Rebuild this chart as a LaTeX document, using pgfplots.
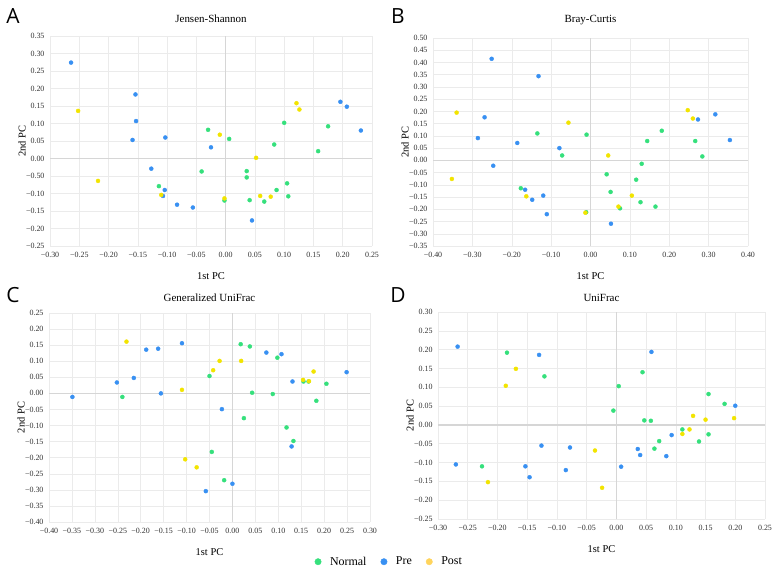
\documentclass[border=0pt]{standalone}
\usepackage{fontspec}
\setmainfont{Liberation Serif}
\newfontfamily\letterfont{Open Sans}
\usepackage{pgfplots}
\pgfplotsset{compat=1.18}

\definecolor{cnorm}{HTML}{35E07C}
\definecolor{cpre}{HTML}{3890F2}
\definecolor{cpost}{HTML}{F2E400}
\definecolor{lpost}{HTML}{FFD45C}
\definecolor{gridc}{HTML}{EBEBEB}
\definecolor{zeroc}{HTML}{D6D6D6}

\pgfplotsset{
  pcoa/.style={
    scale only axis,
    enlargelimits=false,
    axis line style={draw=none},
    major tick length=0pt,
    grid=major,
    grid style={gridc, line width=0.5bp},
    extra x ticks={0}, extra y ticks={0},
    extra x tick labels={}, extra y tick labels={},
    extra tick style={grid style={zeroc, line width=1.4bp}},
    tick label style={font=\fontsize{8}{9}\selectfont, text=black!80},
    xticklabel style={yshift=-3bp},
    yticklabel style={xshift=-2bp},
    title style={font=\fontsize{11}{12}\selectfont, at={(axis description cs:0.5,1)}, anchor=center},
    xlabel style={font=\fontsize{10.5}{12}\selectfont, at={(axis description cs:0.5,0)}, anchor=center, yshift=-30bp},
    ylabel style={font=\fontsize{10.5}{12}\selectfont, at={(axis description cs:0,0.5)}, anchor=center, yshift=28bp},
    xlabel={1st PC}, ylabel={2nd PC},
    clip=false,
  },
  dots/.style={only marks, mark=*, mark size=2bp, color=#1, forget plot},
}

\begin{document}
\begin{tikzpicture}
\path[use as bounding box] (0,0) rectangle (775bp,-573bp);

\node[font=\letterfont\fontsize{21}{22}\selectfont] at (13bp,-16bp) {A};
\node[font=\letterfont\fontsize{21}{22}\selectfont] at (398bp,-16bp) {B};
\node[font=\letterfont\fontsize{21}{22}\selectfont] at (13bp,-295bp) {C};
\node[font=\letterfont\fontsize{21}{22}\selectfont] at (398bp,-295bp) {D};

% ---- A: Jensen-Shannon ----
\begin{axis}[pcoa,
  at={(50bp,-246bp)}, anchor=south west, width=322bp, height=210bp,
  xmin=-0.30, xmax=0.25, ymin=-0.25, ymax=0.35,
  xtick={-0.30,-0.25,...,0.26}, ytick={-0.25,-0.20,...,0.36},
  xticklabels={−0.30,−0.25,−0.20,−0.15,−0.10,−0.05,0.00,0.05,0.10,0.15,0.20,0.25},
  yticklabels={−0.25,−0.20,−0.15,−0.10,−0.50,0.00,0.05,0.10,0.15,0.20,0.25,0.30,0.35},
  title={Jensen-Shannon}, title style={yshift=11bp},
]
\addplot[dots=cnorm] coordinates {
(-0.030,0.082) (0.006,0.056) (-0.041,-0.037) (-0.114,-0.079) (-0.002,-0.120)
(0.036,-0.036) (0.036,-0.054) (0.041,-0.119) (0.066,-0.123) (0.087,-0.090)
(0.105,-0.071) (0.107,-0.108) (0.083,0.040) (0.100,0.102) (0.158,0.021) (0.175,0.092)};
\addplot[dots=cpre] coordinates {
(-0.264,0.274) (-0.154,0.183) (-0.153,0.107) (-0.159,0.053) (-0.103,0.060)
(-0.025,0.032) (-0.127,-0.029) (-0.104,-0.090) (-0.107,-0.107) (-0.083,-0.132)
(-0.056,-0.140) (0.045,-0.177) (0.196,0.162) (0.207,0.148) (0.231,0.080)};
\addplot[dots=cpost] coordinates {
(-0.252,0.136) (-0.218,-0.064) (-0.110,-0.104) (-0.010,0.068) (-0.002,-0.114)
(0.052,0.002) (0.059,-0.107) (0.077,-0.109) (0.121,0.158) (0.126,0.140)};
\end{axis}

% ---- B: Bray-Curtis ----
\begin{axis}[pcoa,
  at={(433bp,-246bp)}, anchor=south west, width=315bp, height=208bp,
  xmin=-0.40, xmax=0.40, ymin=-0.35, ymax=0.50,
  xtick={-0.40,-0.30,...,0.41}, ytick={-0.35,-0.30,...,0.51},
  xticklabels={−0.40,−0.30,−0.20,−0.10,0.00,0.10,0.20,0.30,0.40},
  yticklabels={−0.35,−0.30,−0.25,−0.20,−0.15,−0.10,−0.05,0.00,0.05,0.10,0.15,0.20,0.25,0.30,0.35,0.40,0.45,0.50},
  title={Bray-Curtis}, title style={yshift=12bp},
]
\addplot[dots=cnorm] coordinates {
(-0.135,0.110) (-0.072,0.020) (-0.010,0.105) (-0.177,-0.114) (0.041,-0.057)
(0.051,-0.129) (-0.011,-0.212) (0.075,-0.196) (0.130,-0.014) (0.116,-0.079)
(0.127,-0.171) (0.165,-0.189) (0.144,0.079) (0.181,0.121) (0.266,0.079) (0.284,0.016)};
\addplot[dots=cpre] coordinates {
(-0.251,0.415) (-0.132,0.344) (-0.269,0.176) (-0.286,0.091) (-0.186,0.071)
(-0.079,0.050) (-0.247,-0.022) (-0.166,-0.120) (-0.148,-0.161) (-0.120,-0.144)
(-0.111,-0.220) (0.052,-0.259) (0.273,0.167) (0.317,0.188) (0.354,0.083)};
\addplot[dots=cpost] coordinates {
(-0.340,0.195) (-0.352,-0.076) (-0.163,-0.147) (-0.056,0.154) (-0.013,-0.214)
(0.045,0.020) (0.071,-0.189) (0.105,-0.144) (0.247,0.205) (0.260,0.171)};
\end{axis}

% ---- C: Generalized UniFrac ----
\begin{axis}[pcoa,
  at={(49bp,-522bp)}, anchor=south west, width=321bp, height=209bp,
  xmin=-0.40, xmax=0.30, ymin=-0.40, ymax=0.25,
  xtick={-0.40,-0.35,...,0.31}, ytick={-0.40,-0.35,...,0.26},
  xticklabels={−0.40,−0.35,−0.30,−0.25,−0.20,−0.15,−0.10,−0.05,0.00,0.05,0.10,0.15,0.20,0.25,0.30},
  yticklabels={−0.40,−0.35,−0.30,−0.25,−0.20,−0.15,−0.10,−0.05,0.00,0.05,0.10,0.15,0.20,0.25},
  title={Generalized UniFrac}, title style={yshift=9bp},
  legend columns=3,
  legend style={draw=none, fill=none, at={(axis description cs:1.06,-0.19)}, anchor=center,
    font=\fontsize{12}{13}\selectfont, /tikz/every even column/.append style={column sep=12bp}},
  legend image code/.code={\fill[#1] (0bp,0bp) circle (3.2bp); \path[draw=none,fill=none] (0bp,0bp) -- (10bp,0bp);},
]
\addplot[dots=cnorm] coordinates {
(-0.240,-0.011) (-0.050,0.054) (0.018,0.153) (0.038,0.146) (0.043,0.002)
(0.088,-0.002) (0.098,0.111) (0.025,-0.077) (0.118,-0.106) (0.133,-0.148)
(-0.045,-0.182) (-0.018,-0.270) (0.155,0.037) (0.166,0.037) (0.205,0.030) (0.183,-0.023)};
\addplot[dots=cpre] coordinates {
(-0.349,-0.011) (-0.252,0.034) (-0.215,0.048) (-0.188,0.136) (-0.162,0.139)
(-0.110,0.156) (-0.156,0.000) (-0.023,-0.049) (-0.058,-0.304) (0.000,-0.281)
(0.074,0.127) (0.107,0.122) (0.131,0.037) (0.129,-0.165) (0.249,0.066)};
\addplot[dots=cpost] coordinates {
(-0.231,0.161) (-0.110,0.011) (-0.028,0.101) (-0.042,0.072) (0.019,0.101)
(-0.103,-0.205) (-0.078,-0.230) (0.154,0.042) (0.167,0.038) (0.177,0.068)};
\addlegendimage{cnorm}\addlegendentry{Normal}
\addlegendimage{cpre}\addlegendentry{Pre}
\addlegendimage{lpost}\addlegendentry{Post}
\end{axis}

% ---- D: UniFrac ----
\begin{axis}[pcoa,
  at={(438bp,-519bp)}, anchor=south west, width=327bp, height=207bp,
  xmin=-0.30, xmax=0.25, ymin=-0.25, ymax=0.30,
  xtick={-0.30,-0.25,...,0.26}, ytick={-0.25,-0.20,...,0.31},
  xticklabels={−0.30,−0.25,−0.20,−0.15,−0.10,−0.05,0.00,0.05,0.10,0.15,0.20,0.25},
  yticklabels={−0.25,−0.20,−0.15,−0.10,−0.05,0.00,0.05,0.10,0.15,0.20,0.25,0.30},
  title={UniFrac}, title style={yshift=8bp},
]
\addplot[dots=cnorm] coordinates {
(-0.226,-0.110) (-0.184,0.192) (-0.121,0.129) (-0.005,0.038) (0.004,0.103)
(0.044,0.140) (0.047,0.012) (0.058,0.011) (0.064,-0.063) (0.072,-0.043)
(0.111,-0.012) (0.139,-0.044) (0.155,0.082) (0.155,-0.025) (0.182,0.056)};
\addplot[dots=cpre] coordinates {
(-0.267,0.208) (-0.270,-0.105) (-0.153,-0.110) (-0.146,-0.139) (-0.130,0.186)
(-0.126,-0.055) (-0.078,-0.060) (-0.085,-0.120) (0.008,-0.111) (0.036,-0.064)
(0.040,-0.080) (0.059,0.194) (0.084,-0.083) (0.093,-0.027) (0.200,0.051)};
\addplot[dots=cpost] coordinates {
(-0.216,-0.152) (-0.186,0.104) (-0.169,0.149) (-0.036,-0.068) (-0.024,-0.167)
(0.111,-0.024) (0.123,-0.012) (0.129,0.024) (0.150,0.014) (0.198,0.018)};
\end{axis}
\end{tikzpicture}
\end{document}
